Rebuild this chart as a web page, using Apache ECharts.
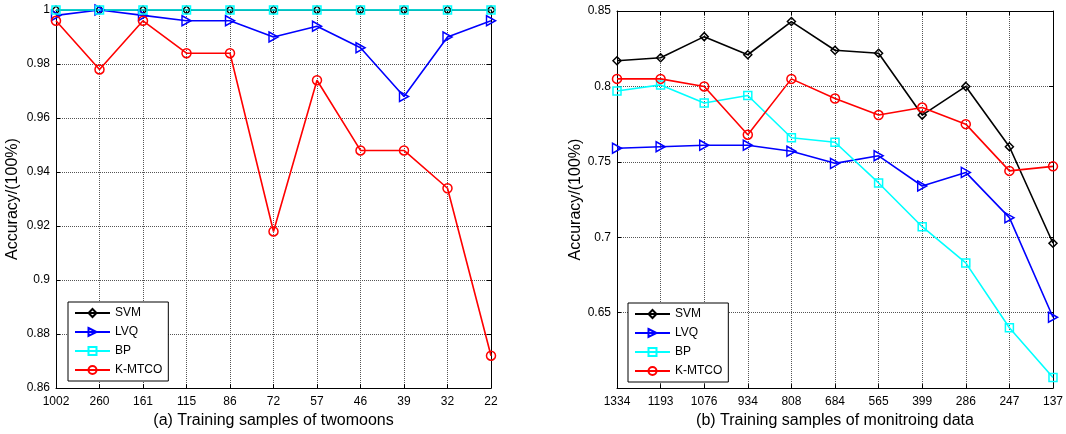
<!DOCTYPE html>
<html>
<head>
<meta charset="utf-8">
<script src="https://cdn.jsdelivr.net/npm/echarts@6/dist/echarts.min.js"></script>
<style>
  html, body { margin: 0; padding: 0; background: #fff; }
  #chart { width: 1066px; height: 434px; }
</style>
</head>
<body>
<div id="chart"></div>
<script>
// (a) twomoons
const catsA = ['1002', '260', '161', '115', '86', '72', '57', '46', '39', '32', '22'];
const svmA = [1, 1, 1, 1, 1, 1, 1, 1, 1, 1, 1];
const lvqA = [0.998, 1.0, 0.998, 0.996, 0.996, 0.990, 0.994, 0.986, 0.968, 0.990, 0.996];
const bpA = [1, 1, 1, 1, 1, 1, 1, 1, 1, 1, 1];
const kmA = [0.996, 0.978, 0.996, 0.984, 0.984, 0.918, 0.974, 0.948, 0.948, 0.934, 0.872];

// (b) monitoring data
const catsB = ['1334', '1193', '1076', '934', '808', '684', '565', '399', '286', '247', '137'];
const svmB = [0.817, 0.819, 0.833, 0.821, 0.843, 0.824, 0.822, 0.781, 0.800, 0.760, 0.696];
const lvqB = [0.759, 0.760, 0.761, 0.761, 0.757, 0.749, 0.754, 0.734, 0.743, 0.713, 0.647];
const bpB = [0.797, 0.801, 0.789, 0.794, 0.766, 0.763, 0.736, 0.707, 0.683, 0.640, 0.607];
const kmB = [0.805, 0.805, 0.800, 0.768, 0.805, 0.792, 0.781, 0.786, 0.775, 0.744, 0.747];

const FONT = '"Liberation Sans", Arial, sans-serif';
const triRight = 'path://M0,0 L10,5 L0,10 Z';

let chart = echarts.init(document.getElementById('chart'));

function mkSeries(name, data, color, symbol, size, xi, yi) {
  return {
    name: name,
    type: 'line',
    xAxisIndex: xi,
    yAxisIndex: yi,
    data: data,
    symbol: symbol,
    symbolSize: size,
    showAllSymbol: true,
    clip: false,
    color: color,
    lineStyle: { color: color, width: 1.6 },
    itemStyle: { color: 'rgba(255,255,255,0)', borderColor: color, borderWidth: 1.5 },
    emphasis: { disabled: true }
  };
}

function xMain(cats, gi, name) {
  return {
    type: 'category', gridIndex: gi, data: cats, boundaryGap: false,
    name: name, nameLocation: 'middle', nameGap: 24,
    nameTextStyle: { fontFamily: FONT, fontSize: 16, color: '#000' },
    axisLine: { lineStyle: { color: '#000', width: 1 } },
    axisTick: { inside: true, length: 4, lineStyle: { color: '#000' } },
    axisLabel: { fontFamily: FONT, fontSize: 12, color: '#000', margin: 8, interval: 0 },
    splitLine: { show: true, lineStyle: { color: '#555', type: 'dotted', width: 1 } }
  };
}
function xTop(cats, gi) {
  return {
    type: 'category', gridIndex: gi, data: cats, boundaryGap: false, position: 'top',
    axisLine: { lineStyle: { color: '#000', width: 1 } },
    axisTick: { inside: true, length: 4, lineStyle: { color: '#000' } },
    axisLabel: { show: false }, splitLine: { show: false }
  };
}
function yMain(gi, min, max, step, gap) {
  return {
    type: 'value', gridIndex: gi, min: min, max: max, interval: step,
    name: 'Accuracy/(100%)', nameLocation: 'middle', nameGap: gap,
    nameTextStyle: { fontFamily: FONT, fontSize: 16, color: '#000' },
    axisLine: { show: true, lineStyle: { color: '#000', width: 1 } },
    axisTick: { show: true, inside: true, length: 4, lineStyle: { color: '#000' } },
    axisLabel: { fontFamily: FONT, fontSize: 12, color: '#000', margin: 6, showMinLabel: gi === 0 },
    splitLine: { show: true, lineStyle: { color: '#555', type: 'dotted', width: 1 } }
  };
}
function yRight(gi, min, max, step) {
  return {
    type: 'value', gridIndex: gi, min: min, max: max, interval: step, position: 'right',
    axisLine: { show: true, lineStyle: { color: '#000', width: 1 } },
    axisTick: { show: true, inside: true, length: 4, lineStyle: { color: '#000' } },
    axisLabel: { show: false }, splitLine: { show: false }
  };
}
function mkLegend(left, top) {
  return {
    orient: 'vertical', left: left, top: top,
    data: ['SVM', 'LVQ', 'BP', 'K-MTCO'],
    backgroundColor: '#fff', borderColor: '#000', borderWidth: 1,
    padding: [5, 6, 5, 6], itemGap: 7, itemWidth: 35, itemHeight: 10,
    selectedMode: false,
    itemStyle: { color: 'rgba(255,255,255,0)' },
    textStyle: { fontFamily: FONT, fontSize: 12, color: '#000' }
  };
}

let option = {
  animation: false,
  grid: [
    { left: 56, right: 575, top: 10, bottom: 44 },
    { left: 617, right: 11, top: 11, bottom: 43 }
  ],
  legend: [mkLegend(68, 302), mkLegend(628, 303)],
  xAxis: [
    xMain(catsA, 0, '(a) Training samples of twomoons'),
    xMain(catsB, 1, '(b) Training samples of monitroing data'),
    xTop(catsA, 0),
    xTop(catsB, 1)
  ],
  yAxis: [
    yMain(0, 0.86, 1, 0.02, 35),
    yMain(1, 0.6, 0.85, 0.05, 32),
    yRight(0, 0.86, 1, 0.02),
    yRight(1, 0.6, 0.85, 0.05)
  ],
  series: [
    mkSeries('SVM', svmA, '#000000', 'diamond', 8, 0, 0),
    mkSeries('LVQ', lvqA, '#0000ff', triRight, [9, 10], 0, 0),
    mkSeries('BP', bpA, '#00ffff', 'rect', 8, 0, 0),
    mkSeries('K-MTCO', kmA, '#ff0000', 'circle', 9, 0, 0),
    mkSeries('SVM', svmB, '#000000', 'diamond', 8, 1, 1),
    mkSeries('LVQ', lvqB, '#0000ff', triRight, [9, 10], 1, 1),
    mkSeries('BP', bpB, '#00ffff', 'rect', 8, 1, 1),
    mkSeries('K-MTCO', kmB, '#ff0000', 'circle', 9, 1, 1)
  ]
};

chart.setOption(option);
</script>
</body>
</html>
